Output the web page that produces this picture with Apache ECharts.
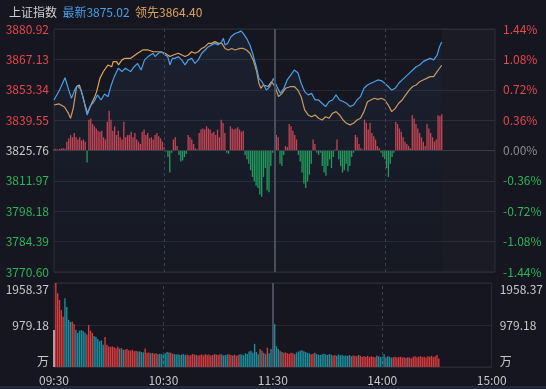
<!DOCTYPE html>
<html><head><meta charset="utf-8">
<script src="https://cdn.jsdelivr.net/npm/echarts@6/dist/echarts.min.js"></script>
<style>html,body{margin:0;padding:0;background:#15161f;}#c{width:546px;height:389px;}</style>
</head><body><div id="c"></div>
<script>
// ---- data ----
const indexName = '上证指数';
const lastPrice = '3875.02';
const leadPrice = '3864.40';
const basePrice = 3825.76;
const stepPrice = 13.79;
const mainTicksLeft = ['3770.60','3784.39','3798.18','3811.97','3825.76','3839.55','3853.34','3867.13','3880.92'];
const mainTicksRight = ['-1.44%','-1.08%','-0.72%','-0.36%','0.00%','0.36%','0.72%','1.08%','1.44%'];
const volTicks = ['万','979.18','1958.37'];
const volMax = 1958.37;
const timeLabels = ['09:30','10:30','11:30','14:00','15:00'];

// [minute from 09:30, price]
const priceLine = [[0,3848.7],[3,3853.2],[6,3858.8],[8,3853.3],[9.5,3849.5],[11.4,3853.5],[12.7,3855.1],[14.6,3853.5],[16.1,3848.7],[18,3841.9],[19.5,3845.7],[21.8,3848],[23.7,3851],[25.6,3848.7],[27.5,3851.4],[29.4,3850.2],[30.9,3854.8],[32.8,3859.3],[35,3863.1],[37,3861.6],[38.8,3863.1],[41.7,3861.6],[43.6,3863.8],[45.5,3865.3],[47.4,3862.3],[49.3,3866.9],[51.2,3868.4],[54,3869.9],[55,3868.4],[56.8,3869.9],[58.6,3870.6],[60.4,3869.1],[61.9,3868.4],[63.1,3864.6],[64.4,3867.6],[65.8,3867.6],[67.7,3868.4],[69.5,3866.9],[71.3,3864.6],[73.1,3866.9],[74.9,3867.6],[76.7,3865.3],[78.5,3866.9],[80.4,3869.9],[82.2,3871.4],[84,3872.9],[85.8,3873.7],[87.6,3874.4],[89.4,3873.7],[91.3,3875.2],[92.2,3876.7],[93.1,3873.7],[94.5,3874.4],[96.3,3877.4],[98.5,3878.9],[100.3,3879.4],[101.7,3880],[103,3878.9],[104.8,3876.7],[106.6,3873.7],[108.4,3869.1],[110.3,3863.1],[111.5,3858.5],[113.2,3857],[115.6,3853.2],[117.5,3854.8],[119.4,3858.5],[121.3,3854.8],[123.2,3851.7],[125.1,3854],[126.9,3857.8],[128.8,3860],[130.8,3862.3],[132.7,3861.1],[134.5,3856.3],[136.4,3852.5],[138.3,3851],[140.2,3851.7],[142.1,3848.7],[144,3848.7],[145.9,3847.2],[147.8,3845.7],[149.7,3848],[151.6,3848.7],[153.5,3851],[155.4,3848.7],[157.3,3848],[159.2,3847.2],[161.1,3845.7],[163,3846.4],[164.9,3848.7],[166.8,3850.2],[168.7,3854],[170.6,3855.5],[172.4,3856.3],[174.3,3857],[176.2,3857.8],[178.1,3857.5],[180,3856.3],[181.9,3854.8],[183.8,3853.2],[185.7,3854],[187.6,3856.3],[189.5,3857.8],[191.4,3859.3],[193.3,3860.8],[195.2,3862.3],[197.1,3863.8],[199,3864.6],[200.9,3866.1],[202.8,3866.9],[204.7,3867.6],[206.6,3866.9],[208.5,3869.1],[209.8,3872.9],[211,3875.02]];

const leadLine = [[0,3846.4],[2.8,3846.9],[5.7,3845.5],[7.8,3842.7],[9,3840.4],[10.5,3845],[12.3,3854.8],[13.8,3855.5],[15.5,3851],[16.9,3846.4],[18.3,3842.7],[20.5,3847.2],[22.2,3850.2],[23.2,3852.5],[25,3858.5],[26.8,3861.5],[29.4,3864.6],[31.4,3863.8],[32.2,3866.1],[34.1,3866.1],[35.1,3864.6],[37,3866.9],[38.6,3867.6],[41.7,3867.6],[45.5,3869.9],[48.3,3871.4],[51.2,3871.4],[52.2,3872.1],[54,3870.6],[55,3871.4],[57.7,3870.6],[60.4,3869.9],[63.1,3868.4],[64.9,3869.1],[67.7,3869.9],[71.3,3868.4],[73.1,3869.1],[74.9,3870.6],[76.7,3869.9],[78.5,3870.6],[80.4,3872.1],[82.2,3872.9],[84,3874.4],[85.8,3874.4],[87.6,3875.2],[89.4,3874.4],[91.3,3874.4],[93.1,3872.1],[94.9,3871.4],[96.7,3872.1],[98.5,3871.4],[101.2,3872.1],[103,3872.1],[104.8,3871.4],[106.6,3869.9],[108.4,3866.9],[110.3,3861.6],[111.5,3856.3],[112.6,3854],[113.9,3855.5],[116.5,3854.8],[118.4,3857],[120.3,3854.8],[122.2,3850.2],[124.1,3851.7],[126,3854],[128.9,3854.8],[130.8,3854.8],[132.7,3853.2],[134.5,3850.2],[136.4,3844.2],[138.3,3841.9],[140.2,3841.1],[142.1,3841.9],[144,3840.4],[145.9,3839.6],[147.8,3841.1],[149.7,3840.4],[151.6,3842.7],[153.5,3843.4],[155.4,3841.9],[157.3,3839.6],[159.2,3838.1],[161.1,3837.4],[163,3838.1],[164.9,3839.6],[166.8,3840.4],[168.7,3843.4],[170.6,3847.9],[172.4,3848.7],[174.3,3849.5],[176.2,3849],[178.1,3849.5],[180,3848.7],[181.9,3846.4],[183.8,3843.4],[185.7,3844.9],[187.6,3847.2],[189.5,3848.7],[191.4,3851],[193.3,3853.2],[195.2,3854.8],[197.1,3855.5],[199,3857],[200.9,3857.8],[202.8,3858.5],[204.7,3859.3],[206.6,3859.3],[208.5,3861.6],[209.8,3863.1],[211,3864.4]];

// per-minute strength bars (index points, + red / - green)
const strength = [0.6,0.8,0.5,0.7,0.9,1.0,0.8,4,5.5,7,6,8,6,5,6,4.5,5,4,-5.5,14,14.5,12,11,10,9,8.5,9,6,5,13,18,14,9,11,7,9,6,5,13,6,7,7,8.5,6,8,5,4,3,8.5,9.5,7,8,5.5,6,5,7,8,6.5,5.5,4,1.5,-0.5,-3,-10,-1,5,6,2,-2,-5,-4.5,-3,-1.5,7,6,5,3,1,0.5,8,9.5,10,9.5,11,10,9.5,8,8.5,7,9.5,6,14,12.5,8,-1,-1.5,11,10,9.5,10,10.5,9.5,8.5,9,-2,-4,-6,-9,-12,-14,-16,-17,-20,-21,-12,-8,-18,-19,-7,-1,0.5,7,6,-6,-7,-2,2,1.5,12,11,9,7,5,-2,-5,-10,-15,-17,-14,-11,-6,5,3,-1,-2,-1,-7,-10,-11.5,-7,-4,-8,-3,0.5,5,-4,-7,-10,-9,-6,-9.5,-7,-3,-1,7,6,3,1,0.5,14,12.5,9.5,12.5,8,6.5,5,2,1,-1,-3,-4,-8,-12,-6,-3,-1,13,12,10,8.5,6,4,3,2,1,16,14.5,12,10,8,6,4,2,12,10,8,6,4,5,16,15.5,16.5];

// per-minute volume (万)
const volume = [860,1958,1720,1560,1330,1170,1600,1400,1100,1050,1060,1000,870,790,850,860,840,800,760,980,850,800,720,700,650,600,620,520,700,520,480,470,480,460,440,470,430,440,400,410,420,390,380,400,370,380,360,370,350,340,430,330,340,320,330,310,320,300,310,300,300,320,350,340,330,310,300,290,300,280,290,300,280,290,270,280,300,290,280,270,280,290,270,300,280,290,270,280,300,290,280,300,290,270,280,290,300,280,270,290,260,280,300,290,270,320,300,360,380,330,540,350,300,420,380,330,300,450,320,420,300,1000,480,420,380,350,330,340,320,310,330,320,300,340,360,380,390,370,350,330,320,300,310,330,300,290,280,300,310,290,280,300,290,270,280,260,290,270,280,260,270,260,280,250,270,260,250,280,260,240,250,240,260,230,250,240,230,260,250,230,240,300,230,250,240,220,230,240,220,230,240,220,230,210,230,220,200,240,250,230,240,250,230,240,220,250,240,260,230,250,280,200];
// per-minute volume colour code: w white, r red, t teal, g grey
const volumeKind = 'w'+'rrrrr'+'tttt'+'rr'+'tttttt'+'rrrr'+'tttttt'+'rrrrrrrr'+'ggt'+'rrrrrrr'+'tgtt'+'rrrtrrr'+'tgtt'+'ttgrrt'+'tttgttr'+'rrrrgrr'+'rrrrrrrgr'+'rrtgtt'+'rrgrrrtt'+'ttttttttt'+'rtrtrtt'+'rtttrt'+'rrrrrrg'+'tttttttt'+'rrgtt'+'ttttgttr'+'rtttttttgt'+'rrrgr'+'rrrrrrrrgt'+'tttgttt'+'rrrrrrrrg'+'rrrrrrrr'+'rrrrrrrrr';

// ---- chart ----
const FONT = "'Noto Sans CJK SC', sans-serif";
const RED = '#e8464e', GREEN = '#2db45a', GREY = '#c8c8c8';
const toK = v => (v - basePrice) / stepPrice;
const volColors = {w:'#e9d6d6', r:'#d63b3e', t:'#1b8e9c', g:'#6c6d78'};

const chart = echarts.init(document.getElementById('c'), null, {renderer:'canvas'});
const vLines = [
  {xAxis:60, lineStyle:{type:[3,3], color:'#3b3e4b', width:1}},
  {xAxis:180, lineStyle:{type:[3,3], color:'#3b3e4b', width:1}},
  {xAxis:120, lineStyle:{type:'solid', color:'#4a4e5c', width:2}}
];
chart.setOption({
  backgroundColor:'#15161f',
  animation:false,
  title:{
    left:4, top:1,
    text:'{a|'+indexName+'}  {b|最新'+lastPrice+'}  {c|领先'+leadPrice+'}',
    textStyle:{fontFamily:FONT, fontSize:12, fontWeight:'normal',
      rich:{a:{color:'#cfcfcf', fontSize:12, fontFamily:FONT},
            b:{color:'#4a9fe6', fontSize:12, fontFamily:FONT},
            c:{color:'#dda35a', fontSize:12, fontFamily:FONT}}}
  },
  grid:[
    {left:54, right:51, top:29, height:243, show:true, borderColor:'#2a2d39', borderWidth:1, backgroundColor:'transparent'},
    {left:54, right:51, top:283, height:84, show:true, borderColor:'#2a2d39', borderWidth:1}
  ],
  xAxis:[
    {gridIndex:0, type:'value', min:0, max:240, interval:60, axisLabel:{show:false}, axisLine:{show:false}, axisTick:{show:false}, splitLine:{show:false}},
    {gridIndex:1, type:'value', min:0, max:240, interval:60, axisLine:{show:false}, axisTick:{show:false}, splitLine:{show:false},
     axisLabel:{color:GREY, fontSize:12, fontFamily:FONT, margin:7, formatter:v=>timeLabels[Math.round(v/60)]}}
  ],
  yAxis:[
    {gridIndex:0, type:'value', min:-4, max:4, interval:1, position:'left',
     axisLine:{show:false}, axisTick:{show:false},
     splitLine:{lineStyle:{color:'#262934', width:1}},
     axisLabel:{margin:5, fontFamily:FONT, fontSize:12,
       formatter:v=>{const k=Math.round(v); const s=k>0?'u':(k<0?'d':'z'); return '{'+s+'|'+mainTicksLeft[k+4]+'}';},
       rich:{u:{color:RED,fontSize:12,fontFamily:FONT}, d:{color:GREEN,fontSize:12,fontFamily:FONT}, z:{color:GREY,fontSize:12,fontFamily:FONT}}}},
    {gridIndex:0, type:'value', min:-4, max:4, interval:1, position:'right',
     axisLine:{show:false}, axisTick:{show:false}, splitLine:{show:false},
     axisLabel:{margin:8, fontFamily:FONT, fontSize:12,
       formatter:v=>{const k=Math.round(v); const s=k>0?'u':(k<0?'d':'z'); return '{'+s+'|'+mainTicksRight[k+4]+'}';},
       rich:{u:{color:RED,fontSize:12,fontFamily:FONT}, d:{color:GREEN,fontSize:12,fontFamily:FONT}, z:{color:'#8a8a90',fontSize:12,fontFamily:FONT}}}},
    {gridIndex:1, type:'value', min:0, max:volMax, interval:volMax/2, position:'left',
     axisLine:{show:false}, axisTick:{show:false},
     splitLine:{lineStyle:{color:'#262934'}},
     axisLabel:{margin:5, color:GREY, fontSize:12, fontFamily:FONT, verticalAlignMaxLabel:'top', verticalAlignMinLabel:'bottom',
       formatter:v=>volTicks[Math.round(v/(volMax/2))]}},
    {gridIndex:1, type:'value', min:0, max:volMax, interval:volMax/2, position:'right',
     axisLine:{show:false}, axisTick:{show:false}, splitLine:{show:false},
     axisLabel:{margin:8, color:GREY, fontSize:12, fontFamily:FONT, verticalAlignMaxLabel:'top', verticalAlignMinLabel:'bottom',
       formatter:v=>volTicks[Math.round(v/(volMax/2))]}}
  ],
  series:[
    {type:'bar', xAxisIndex:0, yAxisIndex:0, z:1, barWidth:1.3, barGap:'-100%',
     data:strength.map((v,i)=>({value:[i, v/stepPrice], itemStyle:{color: v>=0 ? '#d4434f' : '#1fa35a'}})),
     markArea:{silent:true, itemStyle:{color:'rgba(255,255,255,0.025)'}, data:[[{xAxis:211},{xAxis:240}]]},
     markLine:{silent:true, symbol:'none', label:{show:false}, data:vLines.concat([{yAxis:0, lineStyle:{type:'solid', color:'#3a3d49', width:1}}])}},
    {type:'line', name:'lead', xAxisIndex:0, yAxisIndex:0, z:3, symbol:'none', smooth:false,
     lineStyle:{color:'#dda35a', width:1.2}, data:leadLine.map(p=>[p[0], toK(p[1])])},
    {type:'line', name:'price', xAxisIndex:0, yAxisIndex:0, z:4, symbol:'none', smooth:false,
     lineStyle:{color:'#4a9fe6', width:1.2},
     areaStyle:{origin:'start', color:new echarts.graphic.LinearGradient(0,0,0,1,[{offset:0,color:'rgba(60,90,140,0.22)'},{offset:1,color:'rgba(60,90,140,0.04)'}])},
     data:priceLine.map(p=>[p[0], toK(p[1])])},
    {type:'bar', xAxisIndex:1, yAxisIndex:2, barWidth:1.4,
     data:volume.map((v,i)=>({value:[i, v], itemStyle:{color:volColors[volumeKind[i]||'r']}})),
     markLine:{silent:true, symbol:'none', label:{show:false}, data:vLines}}
  ],
  graphic:[{type:'rect', left:0, bottom:0, shape:{width:546, height:3}, style:{fill:'#232836'}, silent:true}]
});
</script></body></html>
